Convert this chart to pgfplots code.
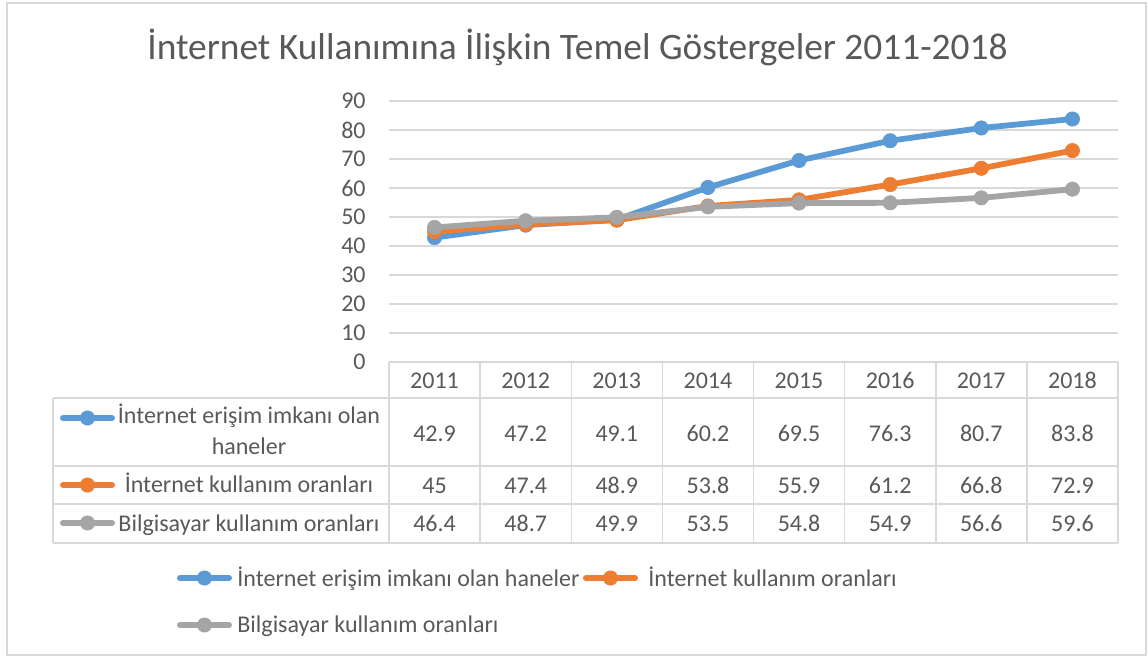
\documentclass[border=0pt]{standalone}
\usepackage{pgfplots}
\pgfplotsset{compat=1.18}
\usepackage{pgfplotstable}
\usepackage{fontspec}
\setmainfont{Carlito}
\definecolor{txt}{HTML}{595959}
\definecolor{gridc}{HTML}{D9D9D9}
\definecolor{sblue}{HTML}{5B9BD5}
\definecolor{sorange}{HTML}{ED7D31}
\definecolor{sgray}{HTML}{A5A5A5}

\pgfplotstableread{
x year a b c
0 2011 42.9 45 46.4
1 2012 47.2 47.4 48.7
2 2013 49.1 48.9 49.9
3 2014 60.2 53.8 53.5
4 2015 69.5 55.9 54.8
5 2016 76.3 61.2 54.9
6 2017 80.7 66.8 56.6
7 2018 83.8 72.9 59.6
}\datatable

\pgfplotsset{
  ser/.style={color=#1, line width=2.9pt, line join=round, line cap=round, mark=*, mark size=3.6pt, mark options={solid, fill=#1, line width=0.3pt}},
  keyimg/.style={legend image code/.code={\draw[mark repeat=2,mark phase=2,##1] plot coordinates {(1.45pt,0pt) (13.75pt,0pt) (26.05pt,0pt)};}},
}
\newcommand\keyat[3]{%
\begin{axis}[at={(#1,#2)}, anchor=west, hide axis, scale only axis, width=5pt, height=5pt,
  xmin=0, xmax=1, ymin=0, ymax=1, keyimg,
  legend style={draw=none, fill=none, inner sep=0pt, outer sep=0pt, at={(0,0.5)}, anchor=west, nodes={inner sep=0pt, outer sep=0pt}}]
\addlegendimage{ser=#3}
\addlegendentry{}
\end{axis}}
\newcommand\tf{\fontsize{12}{14.4}\selectfont}

\begin{document}
\begin{tikzpicture}
\path[use as bounding box] (0pt,0pt) rectangle (574pt,-329.5pt);
\draw[gridc, line width=0.75pt] (3.5pt,-1.5pt) rectangle (573pt,-327.5pt);

\node[anchor=base, text=txt, font=\fontsize{18.7}{22}\selectfont] at (288.75pt,-29.5pt) {İnternet Kullanımına İlişkin Temel Göstergeler 2011-2018};

\begin{axis}[
  at={(194.5pt,-181pt)}, anchor=south west,
  scale only axis, width=364.5pt, height=130.5pt,
  xmin=-0.5, xmax=7.5, ymin=0, ymax=90,
  ytick={0,10,...,90}, xtick=\empty,
  ymajorgrids, grid style={gridc, line width=0.7pt},
  axis line style={draw=none},
  major tick length=0pt,
  tick label style={font=\tf, text=txt},
  /pgf/number format/assume math mode=true,
  yticklabel style={inner sep=0pt, xshift=-11.5pt},
  clip=false,
]
\addplot[ser=sblue] table[x=x, y=a] {\datatable};
\addplot[ser=sorange] table[x=x, y=b] {\datatable};
\addplot[ser=sgray] table[x=x, y=c] {\datatable};
\end{axis}

% data table grid
\begin{scope}[gridc, line width=0.75pt]
\draw (194.5pt,-181pt) -- (559pt,-181pt);
\foreach \yy in {-199pt,-233pt,-252pt,-271.5pt} \draw (26.5pt,\yy) -- (559pt,\yy);
\draw (26.5pt,-199pt) -- (26.5pt,-271.5pt);
\foreach \i in {0,...,8} \draw ({194.5pt+\i*45.5625pt},-181pt) -- ({194.5pt+\i*45.5625pt},-271.5pt);
\end{scope}

\foreach \i in {0,...,7} {
  \pgfplotstablegetelem{\i}{year}\of\datatable
  \node[anchor=base, text=txt, font=\tf] at ({194.5pt+(\i+0.5)*45.5625pt},-194pt) {\pgfplotsretval};
  \pgfplotstablegetelem{\i}{a}\of\datatable
  \node[anchor=base, text=txt, font=\tf] at ({194.5pt+(\i+0.5)*45.5625pt},-220.5pt) {\pgfplotsretval};
  \pgfplotstablegetelem{\i}{b}\of\datatable
  \node[anchor=base, text=txt, font=\tf] at ({194.5pt+(\i+0.5)*45.5625pt},-246.5pt) {\pgfplotsretval};
  \pgfplotstablegetelem{\i}{c}\of\datatable
  \node[anchor=base, text=txt, font=\tf] at ({194.5pt+(\i+0.5)*45.5625pt},-265.5pt) {\pgfplotsretval};
}

% row headers
\node[anchor=base, text=txt, font=\tf] at (124.5pt,-211.5pt) {İnternet erişim imkanı olan};
\node[anchor=base, text=txt, font=\tf] at (124.5pt,-227pt) {haneler};
\node[anchor=base, text=txt, font=\tf] at (124.5pt,-246pt) {İnternet kullanım oranları};
\node[anchor=base, text=txt, font=\tf] at (124.5pt,-265.5pt) {Bilgisayar kullanım oranları};
\keyat{30pt}{-209pt}{sblue}
\keyat{30pt}{-242.5pt}{sorange}
\keyat{30pt}{-261.5pt}{sgray}

% legend
\keyat{88.5pt}{-289pt}{sblue}
\keyat{291.5pt}{-289pt}{sorange}
\keyat{88.5pt}{-312.5pt}{sgray}
\node[anchor=base west, inner sep=0pt, text=txt, font=\tf] at (118.5pt,-293pt) {İnternet erişim imkanı olan haneler};
\node[anchor=base west, inner sep=0pt, text=txt, font=\tf] at (324pt,-293pt) {İnternet kullanım oranları};
\node[anchor=base west, inner sep=0pt, text=txt, font=\tf] at (118.5pt,-316pt) {Bilgisayar kullanım oranları};
\end{tikzpicture}
\end{document}
